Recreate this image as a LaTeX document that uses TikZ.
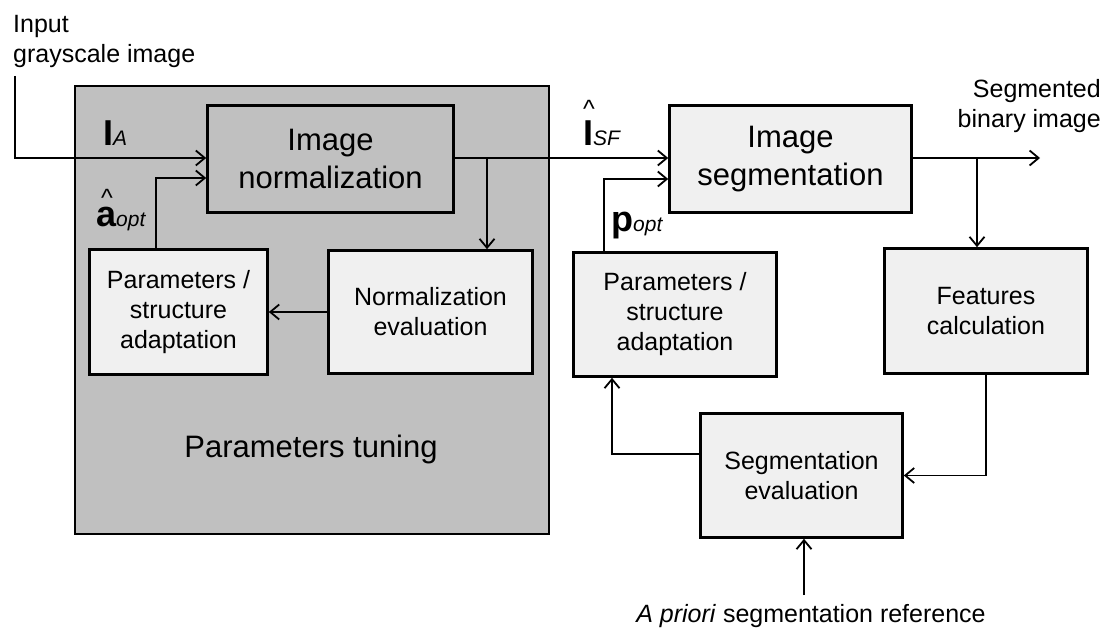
\documentclass[tikz,border=0pt]{standalone}
\usepackage{fontspec}
\setmainfont{Liberation Sans}
\usetikzlibrary{arrows.meta,calc}
\definecolor{panelgray}{RGB}{192,192,192}
\definecolor{boxlight}{RGB}{240,240,240}
% bold symbol with an italic index
\newcommand\symbsub[2]{{\fontsize{36pt}{36pt}\selectfont\bfseries #1}{\fontsize{21pt}{21pt}\selectfont\itshape #2}}
% circumflex set above the following symbol: #1 raise, #2 horizontal offset
\newcommand\hatover[2]{\makebox[0pt][l]{\hspace*{#2}\raisebox{#1}{\fontsize{25pt}{25pt}\selectfont\textasciicircum}}}
\begin{document}
\begin{tikzpicture}[x=1pt,y=-1pt,
  blk/.style={draw=black, line width=2.6pt, align=center, inner sep=0pt},
  bigtxt/.style={font=\fontsize{31pt}{38pt}\selectfont},
  smalltxt/.style={font=\fontsize{25pt}{30pt}\selectfont},
  conn/.style={line width=1.8pt, -{Straight Barb[length=9pt,width=15pt]}},
  lbl/.style={inner sep=0pt, font=\fontsize{25pt}{30pt}\selectfont},
  sym/.style={inner sep=0pt, anchor=base west},
]
\useasboundingbox[fill=white] (0,0) rectangle (1104,628);

% parameter tuning panel
\node[draw=black, line width=1.8pt, fill=panelgray, minimum width=474pt, minimum height=448pt, inner sep=0pt] (panel) at (312,310) {};
\node[inner sep=0pt, anchor=base, font=\fontsize{31pt}{38pt}\selectfont] (tune) at (311,457) {Parameters tuning};

% processing blocks
\node[blk, bigtxt, fill=panelgray, minimum width=246pt, minimum height=107pt] (norm) at (330.5,159) {Image\\normalization};
\node[blk, smalltxt, fill=boxlight, minimum width=178pt, minimum height=125pt] (padL) at (178.5,312) {Parameters /\\structure\\adaptation};
\node[blk, smalltxt, fill=boxlight, minimum width=204pt, minimum height=123pt] (neval) at (430.5,312) {Normalization\\evaluation};
\node[blk, bigtxt, fill=boxlight, minimum width=242pt, minimum height=107pt] (seg) at (790.5,159) {Image\\segmentation};
\node[blk, smalltxt, fill=boxlight, minimum width=203pt, minimum height=124pt] (padR) at (675,314.5) {Parameters /\\structure\\adaptation};
\node[blk, smalltxt, fill=boxlight, minimum width=203pt, minimum height=125pt] (feat) at (986,311) {Features\\calculation};
\node[blk, smalltxt, fill=boxlight, minimum width=202pt, minimum height=124pt] (seval) at (801.5,475.5) {Segmentation\\evaluation};

% free ends and branch points
\coordinate (in0) at (15,76);
\coordinate (outR) at (1040,158);
\coordinate (apri) at (804,595);
\coordinate (tapN) at ([xshift=56.5pt]neval.north);
\coordinate (tapF) at ([xshift=-9pt]feat.north);
\coordinate (aoptS) at ([xshift=-22.5pt]padL.north);
\coordinate (poptS) at ([xshift=-71pt]padR.north);
\coordinate (sevalW) at ([yshift=21.5pt]seval.west);
\coordinate (padRS) at ([xshift=-63pt]padR.south);
\coordinate (normIn) at ([yshift=1pt]norm.west);
\coordinate (segIn) at ([yshift=1pt]seg.west);
\coordinate (normOut) at ([yshift=1pt]norm.east);

% connectors
\draw[conn] (in0) |- (normIn);
\draw[conn] (aoptS) |- ([yshift=-20pt]normIn);
\draw[conn] (normOut) -- (segIn);
\draw[conn] (tapN |- normOut) -- (tapN);
\draw[conn] (neval.west) -- (padL.east);
\draw[conn] (poptS) |- ([yshift=-21pt]segIn);
\draw[conn] (seg.east |- outR) -- (outR);
\draw[conn] (tapF |- outR) -- (tapF);
\draw[conn] (feat.south) |- (seval.east);
\draw[conn] (sevalW) -| (padRS);
\draw[conn] (apri) -- (apri |- seval.south);

% text labels
\node[lbl, anchor=base west] (inL1) at (13,33) {Input};
\node[lbl, anchor=base west] (inL2) at (13,63) {grayscale image};
\node[lbl, anchor=base east] (outL1) at (1101,98) {Segmented};
\node[lbl, anchor=base east] (outL2) at (1101,128) {binary image};
\node[lbl, anchor=base] (aprL) at (811,622) {\textit{A priori} segmentation reference};

% signal symbols
\node[sym] (lIA) at (103,146) {\symbsub{I}{A}};
\node[sym] (lIsf) at (583,146) {\hatover{28pt}{0pt}\symbsub{I}{SF}};
\node[sym] (laopt) at (96,227) {\hatover{20pt}{5pt}\symbsub{a}{opt}};
\node[sym] (lpopt) at (611,232) {\symbsub{p}{opt}};
\end{tikzpicture}
\end{document}
